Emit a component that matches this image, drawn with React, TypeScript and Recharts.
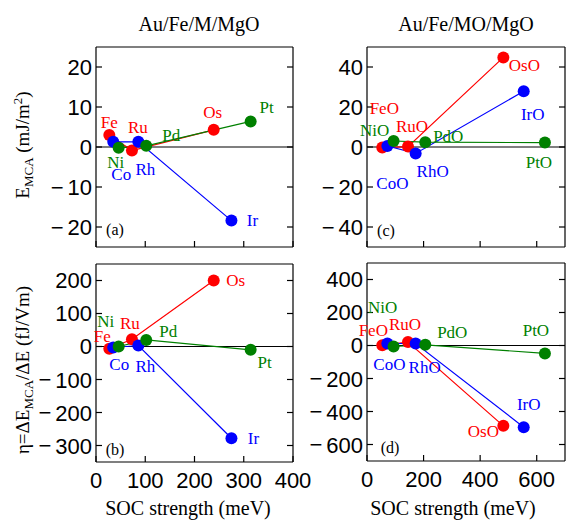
import React from 'react'
import { LineChart, Line, XAxis, YAxis, ReferenceLine, LabelList } from 'recharts'

const RED = '#ff0000'
const BLUE = '#0000ff'
const GREEN = '#008000'
const SERIF = '"Liberation Serif", "Times New Roman", serif'
const SANS = '"Liberation Sans", Arial, sans-serif'

// Au/Fe/M/MgO : metals
const metalsRed = ['Fe', 'Ru', 'Os']
const metalsBlue = ['Co', 'Rh', 'Ir']
const metalsGreen = ['Ni', 'Pd', 'Pt']
const socRed = [27, 73, 239]
const socBlue = [35, 86, 275]
const socGreen = [46, 102, 314]
const emcaRed = [3.0, -0.9, 4.3]
const emcaBlue = [1.3, 1.3, -18.4]
const emcaGreen = [-0.2, 0.3, 6.4]
const etaRed = [-7, 22, 200]
const etaBlue = [-3, 3, -278]
const etaGreen = [0, 20, -10]

// Au/Fe/MO/MgO : oxides
const oxidesRed = ['FeO', 'RuO', 'OsO']
const oxidesBlue = ['CoO', 'RhO', 'IrO']
const oxidesGreen = ['NiO', 'PdO', 'PtO']
const socOxRed = [54, 145, 482]
const socOxBlue = [72, 172, 554]
const socOxGreen = [94, 206, 629]
const emcaOxRed = [-0.3, 0.2, 44.8]
const emcaOxBlue = [0.5, -3.2, 27.9]
const emcaOxGreen = [3.0, 2.4, 2.2]
const etaOxRed = [2, 21, -487]
const etaOxBlue = [12, 12, -495]
const etaOxGreen = [-6, 4, -48]

// axis ticks
const ticksSocM = [0, 100, 200, 300, 400]
const ticksSocOx = [0, 200, 400, 600]
const ticksEmca = [-20, -10, 0, 10, 20]
const ticksEmcaOx = [-40, -20, 0, 20, 40]
const ticksEta = [-300, -200, -100, 0, 100, 200]
const ticksEtaOx = [-600, -400, -200, 0, 200, 400]

// label offsets (px) from each marker
const offA: Record<string, number[]> = {
  Fe: [0, -13], Ru: [6, -23], Os: [-1, -17], Co: [8, 33], Rh: [7, 28], Ir: [21, 0],
  Ni: [-3, 15], Pd: [25, -10], Pt: [16, -14],
}
const offB: Record<string, number[]> = {
  Fe: [-7, -12], Ru: [-2, -16], Os: [22, 0], Co: [6, 17], Rh: [7, 21], Ir: [22, 0],
  Ni: [-13, -25], Pd: [22, -8], Pt: [14, 13],
}
const offC: Record<string, number[]> = {
  FeO: [2, -39], RuO: [4, -20], OsO: [21, 8], CoO: [5, 37], RhO: [17, 18], IrO: [9, 23],
  NiO: [-19, -11], PdO: [23, -6], PtO: [-6, 20],
}
const offD: Record<string, number[]> = {
  FeO: [-9, -15], RuO: [-3, -18], OsO: [-20, 6], CoO: [2, 21], RhO: [9, 24], IrO: [5, -23],
  NiO: [-11, -39], PdO: [27, -12], PtO: [-9, -23],
}

type Series = { color: string; names: string[]; xs: number[]; ys: number[] }

const build = (s: Series) => s.names.map((name, i) => ({ name, x: s.xs[i], y: s.ys[i] }))

// tick text with a wide minus, like the original plot
const tickText = (v: number) =>
  v < 0 ? (
    <>
      {'\u2212'}
      <tspan dx={4}>{String(-v)}</tspan>
    </>
  ) : (
    String(v)
  )

const YTick = (p: any) => (
  <text x={p.x} y={p.y} textAnchor="end" dominantBaseline="central" fill="#000" fontSize={22} fontFamily={SANS}>
    {tickText(p.payload.value)}
  </text>
)
const XTick = (p: any) => (
  <text x={p.x} y={p.y} dy="0.72em" textAnchor="middle" fill="#000" fontSize={22} fontFamily={SANS}>
    {tickText(p.payload.value)}
  </text>
)
const NoTick = () => <g />

type PanelProps = {
  left: number
  top: number
  w: number
  h: number
  xDomain: number[]
  xTicks: number[]
  yDomain: number[]
  yTicks: number[]
  showX: boolean
  series: Series[]
  offsets: Record<string, number[]>
}

function Panel({ left, top, w, h, xDomain, xTicks, yDomain, yTicks, showX, series, offsets }: PanelProps) {
  const YW = 75
  const BH = 40
  const RM = 30
  const axisLine = { stroke: '#000', strokeWidth: 1.2 }
  const tickLine = { stroke: '#000', strokeWidth: 1.2 }
  return (
    <div style={{ position: 'absolute', left: left - YW, top: top - 1 }}>
      <LineChart width={YW + w + 1 + RM} height={1 + h + BH} margin={{ top: 0, right: RM, bottom: 0, left: 0 }}>
        <XAxis dataKey="x" type="number" domain={xDomain} ticks={xTicks} interval={0} allowDataOverflow
          height={BH} tickSize={-6} tickMargin={16} axisLine={axisLine} tickLine={tickLine}
          tick={showX ? XTick : NoTick} />
        <XAxis xAxisId="t" orientation="top" type="number" domain={xDomain} ticks={xTicks} interval={0} allowDataOverflow
          height={1} tickSize={-6} axisLine={axisLine} tickLine={tickLine} tick={NoTick} />
        <YAxis type="number" domain={yDomain} ticks={yTicks} interval={0} allowDataOverflow
          width={YW} tickSize={-6} tickMargin={10} axisLine={axisLine} tickLine={tickLine} tick={YTick} />
        <YAxis yAxisId="r" orientation="right" type="number" domain={yDomain} ticks={yTicks} interval={0} allowDataOverflow
          width={1} tickSize={-6} axisLine={axisLine} tickLine={tickLine} tick={NoTick} />
        <ReferenceLine y={0} stroke="#000" strokeWidth={1.2} />
        {series.map((s) => (
          <Line key={s.names[0]} data={build(s)} dataKey="y" type="linear" stroke={s.color} strokeWidth={1.2}
            dot={{ r: 6, fill: s.color, stroke: s.color, strokeWidth: 0 }} isAnimationActive={false}>
            <LabelList dataKey="name" content={(p: any) => {
              const x = p.x ?? p.viewBox?.x
              const y = p.y ?? p.viewBox?.y
              const name = s.names[p.index]
              const o = offsets[name] ?? [0, 0]
              return (
                <text x={x + o[0]} y={y + o[1]} fill={s.color} textAnchor="middle" dominantBaseline="central"
                  fontFamily={SERIF} fontSize={17}>{name}</text>
              )
            }} />
          </Line>
        ))}
      </LineChart>
    </div>
  )
}

const seriesA: Series[] = [
  { color: RED, names: metalsRed, xs: socRed, ys: emcaRed },
  { color: BLUE, names: metalsBlue, xs: socBlue, ys: emcaBlue },
  { color: GREEN, names: metalsGreen, xs: socGreen, ys: emcaGreen },
]
const seriesB: Series[] = [
  { color: RED, names: metalsRed, xs: socRed, ys: etaRed },
  { color: BLUE, names: metalsBlue, xs: socBlue, ys: etaBlue },
  { color: GREEN, names: metalsGreen, xs: socGreen, ys: etaGreen },
]
const seriesC: Series[] = [
  { color: RED, names: oxidesRed, xs: socOxRed, ys: emcaOxRed },
  { color: BLUE, names: oxidesBlue, xs: socOxBlue, ys: emcaOxBlue },
  { color: GREEN, names: oxidesGreen, xs: socOxGreen, ys: emcaOxGreen },
]
const seriesD: Series[] = [
  { color: RED, names: oxidesRed, xs: socOxRed, ys: etaOxRed },
  { color: BLUE, names: oxidesBlue, xs: socOxBlue, ys: etaOxBlue },
  { color: GREEN, names: oxidesGreen, xs: socOxGreen, ys: etaOxGreen },
]

export default function App() {
  return (
    <div style={{ position: 'absolute', left: 0, top: 0, width: 568, height: 521, background: '#fff', overflow: 'hidden' }}>
      <Panel left={96} top={47} w={197} h={200} xDomain={[0, 400]} xTicks={ticksSocM}
        yDomain={[-25, 25]} yTicks={ticksEmca} showX={false} series={seriesA} offsets={offA} />
      <Panel left={96} top={264} w={197} h={198} xDomain={[0, 400]} xTicks={ticksSocM}
        yDomain={[-350, 250]} yTicks={ticksEta} showX series={seriesB} offsets={offB} />
      <Panel left={367} top={47} w={198} h={200} xDomain={[0, 700]} xTicks={ticksSocOx}
        yDomain={[-50, 50]} yTicks={ticksEmcaOx} showX={false} series={seriesC} offsets={offC} />
      <Panel left={367} top={263} w={198} h={198} xDomain={[0, 700]} xTicks={ticksSocOx}
        yDomain={[-700, 500]} yTicks={ticksEtaOx} showX series={seriesD} offsets={offD} />
      <svg width={568} height={521} style={{ position: 'absolute', left: 0, top: 0, pointerEvents: 'none' }}
        fontFamily={SERIF}>
        <text x={199} y={31} textAnchor="middle" fontSize={20}>Au/Fe/M/MgO</text>
        <text x={466} y={31} textAnchor="middle" fontSize={20}>Au/Fe/MO/MgO</text>
        <text x={188} y={515} textAnchor="middle" fontSize={20}>SOC strength (meV)</text>
        <text x={453} y={515} textAnchor="middle" fontSize={20}>SOC strength (meV)</text>
        <text x={29} y={145} textAnchor="middle" fontSize={19} transform="rotate(-90 29 145)">
          E<tspan fontSize={13} dy={4}>MCA</tspan><tspan dy={-4}> (mJ/m</tspan><tspan fontSize={13} dy={-7}>2</tspan><tspan dy={7}>)</tspan>
        </text>
        <text x={29} y={370} textAnchor="middle" fontSize={19} transform="rotate(-90 29 370)">
          η=ΔE<tspan fontSize={13} dy={4}>MCA</tspan><tspan dy={-4}>/ΔE (fJ/Vm)</tspan>
        </text>
        <text x={115} y={229} textAnchor="middle" dominantBaseline="central" fontSize={16}>(a)</text>
        <text x={115} y={449} textAnchor="middle" dominantBaseline="central" fontSize={16}>(b)</text>
        <text x={386} y={230} textAnchor="middle" dominantBaseline="central" fontSize={16}>(c)</text>
        <text x={390} y={447} textAnchor="middle" dominantBaseline="central" fontSize={16}>(d)</text>
      </svg>
    </div>
  )
}
